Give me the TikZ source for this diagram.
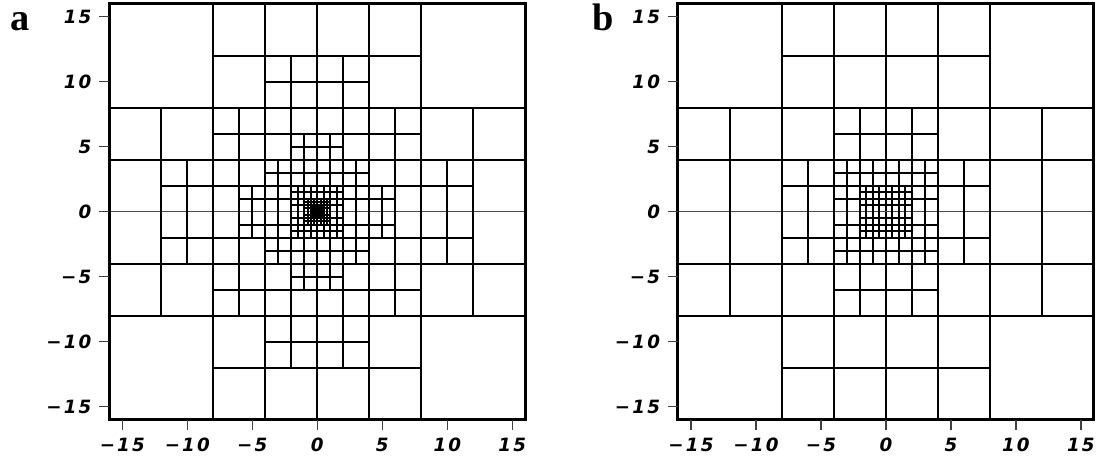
\documentclass[tikz,border=0pt]{standalone}
\usepackage{fontspec}
\usepackage{tikz}
\newfontfamily\tickfont[LetterSpace=12]{DejaVu Sans}
\newfontfamily\panelfont{Liberation Serif}

% split a square cell (lower left corner #1,#2, side #3) as long as its
% centre lies closer to the origin than \celllimit{side}
\newcommand\splitcell[3]{%
  \begingroup
  \pgfmathsetmacro\halfside{#3/2}%
  \pgfmathsetmacro\cdist{veclen(#1+\halfside,#2+\halfside)}%
  \pgfmathsetmacro\climit{\celllimit{#3}}%
  \ifdim\cdist pt<\climit pt
    \draw[cellline] (#1+\halfside,#2) -- ++(0,#3) (#1,#2+\halfside) -- ++(#3,0);
    \pgfmathsetmacro\xmid{#1+\halfside}%
    \pgfmathsetmacro\ymid{#2+\halfside}%
    \edef\nextcells{%
      \noexpand\splitcell{#1}{#2}{\halfside}%
      \noexpand\splitcell{\xmid}{#2}{\halfside}%
      \noexpand\splitcell{#1}{\ymid}{\halfside}%
      \noexpand\splitcell{\xmid}{\ymid}{\halfside}}%
    \nextcells
  \fi
  \endgroup}

\begin{document}
\begin{tikzpicture}[x=0.25cm,y=0.25cm,
    cellline/.style={line width=1.1pt},
    zeroline/.style={draw=black!70,line width=0.6pt},
    frame/.style={line width=1.6pt},
    tick/.style={draw=black!75,line width=0.7pt},
    ticklabel/.style={inner sep=0pt,font=\tickfont\fontsize{10}{10}\selectfont\bfseries\itshape},
    panellabel/.style={inner sep=0pt,anchor=base west,
                       font=\panelfont\fontsize{21}{21}\selectfont\bfseries},
]
\useasboundingbox (0,0) rectangle (84.85,35.46);

% ---- Panel a -------------------------------------------------------------
\node[panellabel] (lbla) at (0.77,33.08) {a};
\begin{scope}[shift={(24.41,19.18)}]
  \def\celllimit#1{#1>7 ? 14 : (#1>3 ? 11 : (#1>1.5 ? 5.5 : (#1>0.1 ? 2.4*#1 : 0)))}
  \draw[cellline] (0,-16) -- (0,16);
  \draw[zeroline] (-16.8,0) -- (16,0);
  \splitcell{-16}{-16}{16}
  \splitcell{0}{-16}{16}
  \splitcell{-16}{0}{16}
  \splitcell{0}{0}{16}
  \draw[frame] (-16,-16) rectangle (16,16);
  \foreach \t/\s in {-15/−15,-10/−10,-5/−5,0/0,5/5,10/10,15/15}{
    \draw[tick] (-16,\t) -- (-16.8,\t);
    \node[ticklabel,anchor=east] (ya\t) at (-17.35,\t) {\s};
    \draw[tick] (\t,-16) -- (\t,-16.8);
    \node[ticklabel,anchor=north] (xa\t) at (\t,-17.4) {\s};
  }
\end{scope}

% ---- Panel b -------------------------------------------------------------
\node[panellabel] (lblb) at (45.54,33.15) {b};
\begin{scope}[shift={(68.15,19.18)}]
  \def\celllimit#1{#1>7 ? 14 : (#1>3 ? 7.5 : (#1>1.5 ? 4.7 : (#1>0.7 ? 2.5 : 0)))}
  \draw[cellline] (0,-16) -- (0,16);
  \draw[zeroline] (-16.8,0) -- (16,0);
  \splitcell{-16}{-16}{16}
  \splitcell{0}{-16}{16}
  \splitcell{-16}{0}{16}
  \splitcell{0}{0}{16}
  \draw[frame] (-16,-16) rectangle (16,16);
  \foreach \t/\s in {-15/−15,-10/−10,-5/−5,0/0,5/5,10/10,15/15}{
    \draw[tick] (-16,\t) -- (-16.8,\t);
    \node[ticklabel,anchor=east] (yb\t) at (-17.35,\t) {\s};
    \draw[tick] (\t,-16) -- (\t,-16.8);
    \node[ticklabel,anchor=north] (xb\t) at (\t,-17.4) {\s};
  }
\end{scope}

\end{tikzpicture}
\end{document}
